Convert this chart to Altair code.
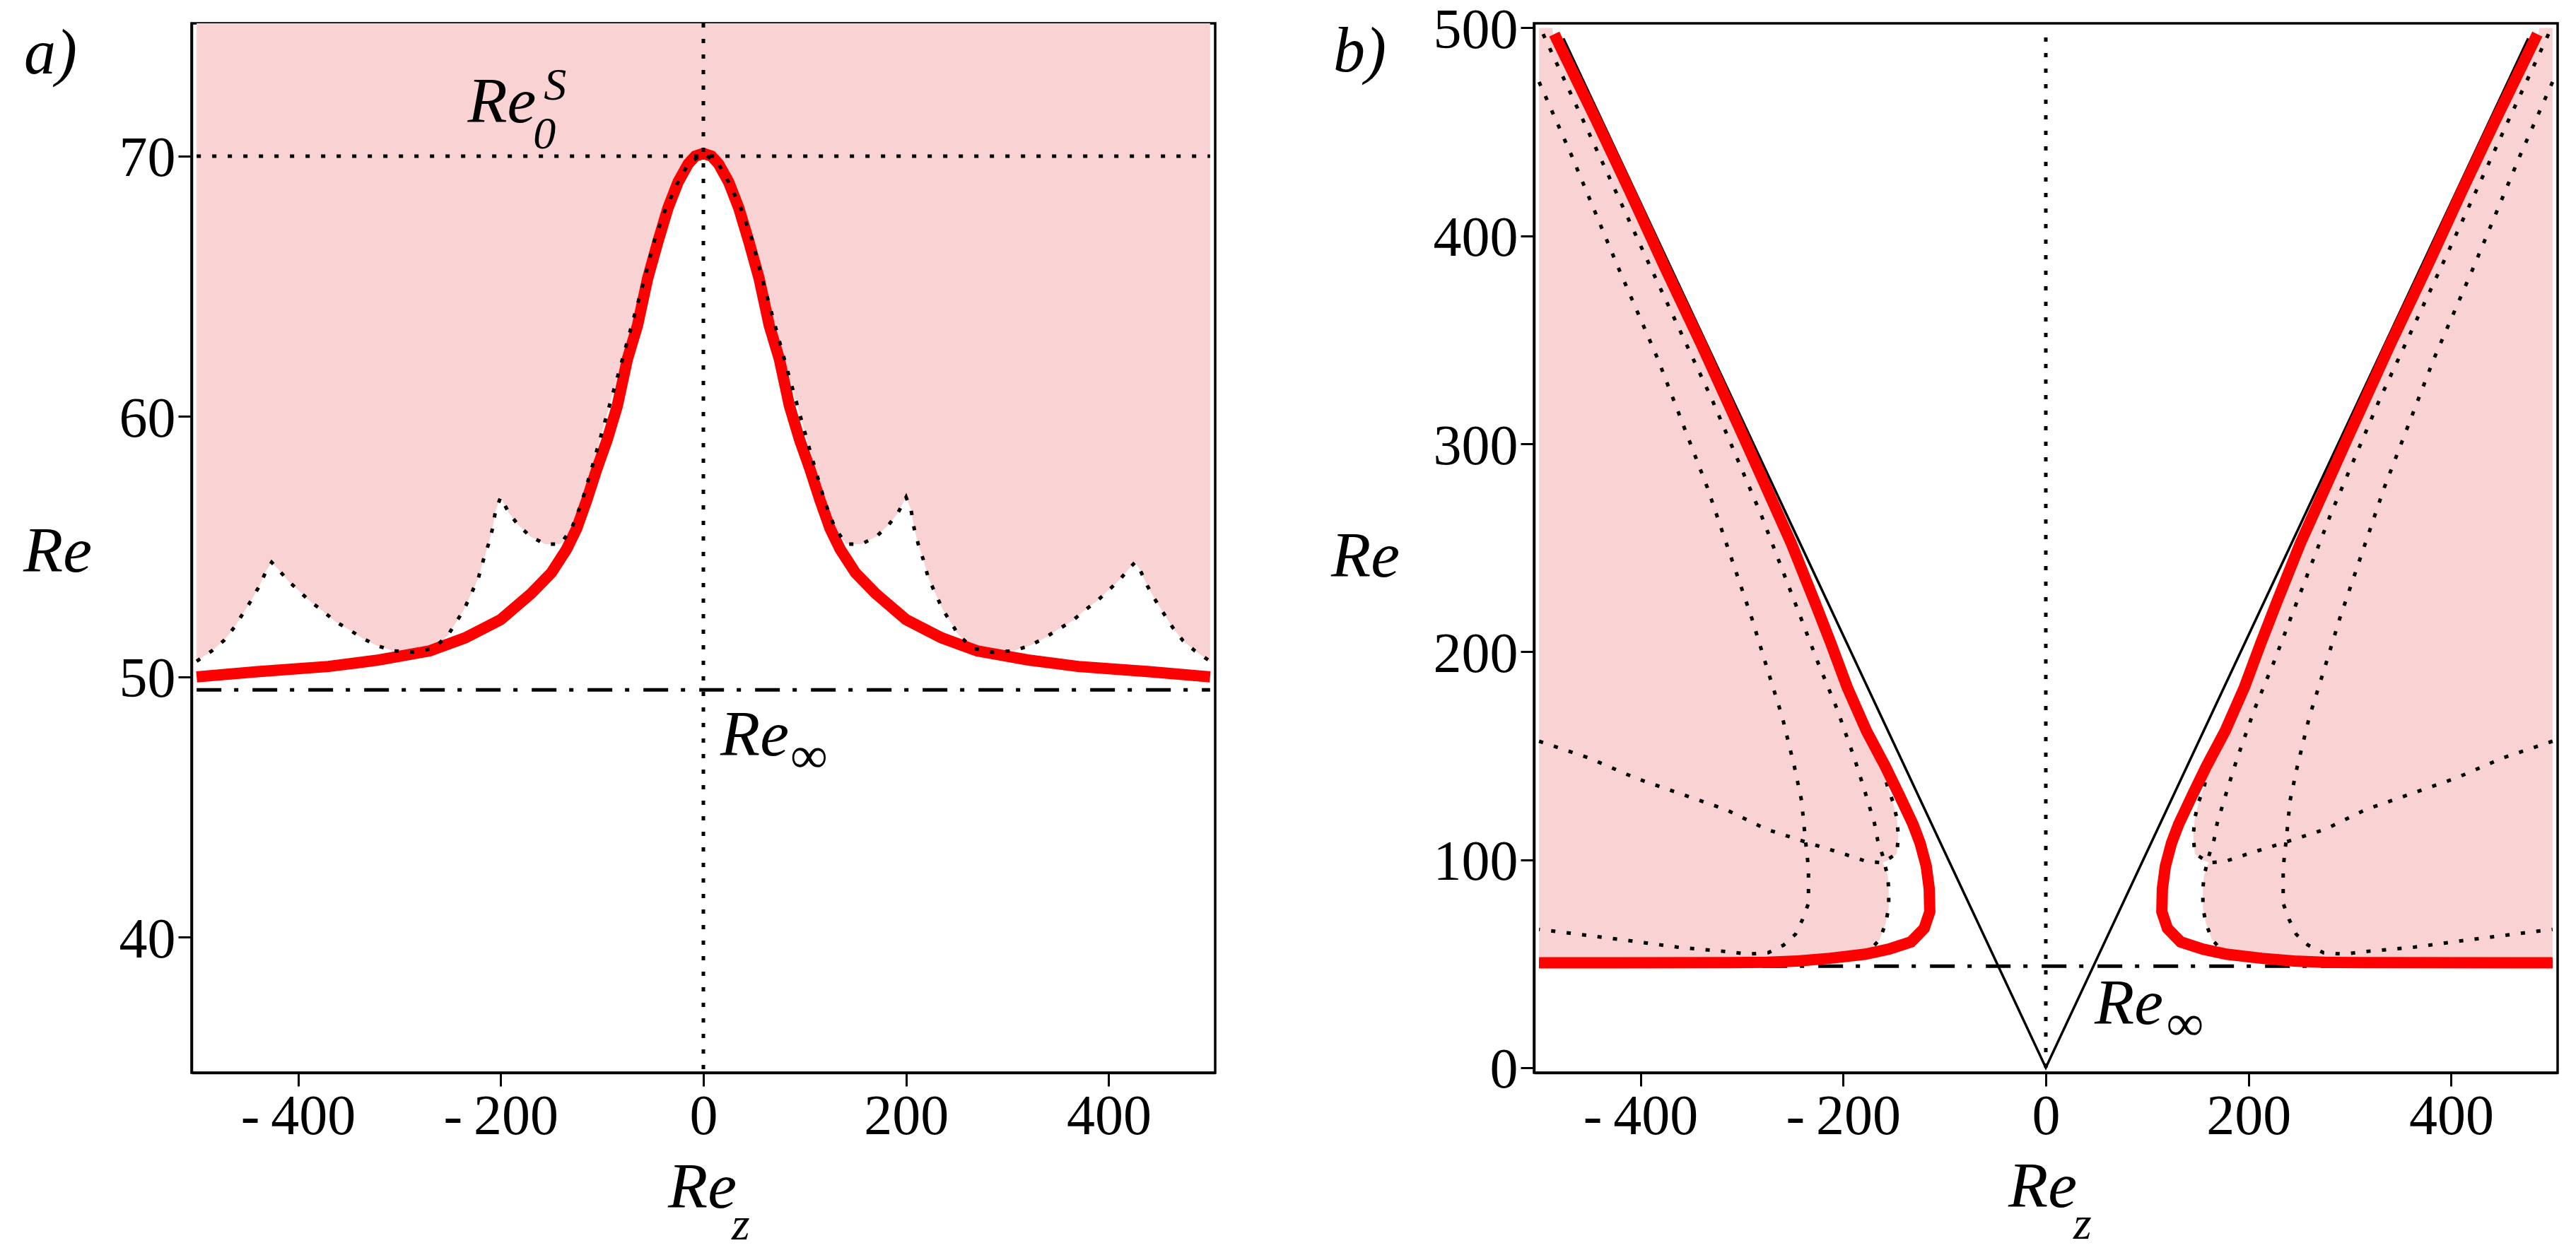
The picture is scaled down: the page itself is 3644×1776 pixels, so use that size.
import altair as alt
import pandas as pd

PINK = "#F9D3D3"
RED = "#FF0000"
FONT = "Liberation Serif"

# ---------------- panel a ----------------
A_X_DOMAIN = [-505, 505]
A_Y_DOMAIN = [34.8, 75.1]
A_X_TICKS = [-400, -200, 0, 200, 400]
A_Y_TICKS = [40, 50, 60, 70]
A_XMIN, A_XMAX = -500, 500
A_RE0S = 70.0
A_REINF = 49.5
# red curve (right half, mirrored to the left)
A_RED_X = [0, 8, 15, 25, 35, 45, 55, 65, 75, 85, 95, 105, 115, 125, 135, 150, 170, 200, 235, 270, 320, 370, 440, 500]
A_RED_Y = [70.1, 70.0, 69.7, 69.0, 68.0, 66.7, 65.3, 63.5, 62.2, 60.4, 59.1, 58.0, 56.8, 55.7, 54.9, 54.0, 53.2, 52.2, 51.5, 51.0, 50.65, 50.4, 50.2, 50.0]
# dotted envelope (right half, mirrored)
A_ENV_X = [0, 15, 25, 37, 48, 58, 70, 82, 95, 108, 120, 130, 141, 156, 171, 183, 192, 200, 205, 208,
           212, 217, 222, 229, 236, 244, 252, 266, 285, 306, 322, 337, 349, 364, 376, 388, 399, 410, 421, 426,
           431, 438, 446, 454, 463, 473, 485, 500]
A_ENV_Y = [70.1, 69.7, 69.0, 68.0, 66.8, 65.3, 63.6, 61.9, 60.1, 58.3, 56.7, 55.7, 55.1, 55.1, 55.4, 55.85, 56.3, 56.9, 56.4, 55.7,
           55.1, 54.5, 53.8, 53.2, 52.6, 52.1, 51.6, 51.1, 50.95, 51.0, 51.2, 51.5, 51.8, 52.15, 52.55, 52.9, 53.3, 53.7, 54.2, 54.4,
           54.1, 53.5, 52.95, 52.45, 51.9, 51.4, 51.0, 50.6]

# ---------------- panel b ----------------
B_X_DOMAIN = [-505, 505]
B_Y_DOMAIN = [-2.4, 502.2]
B_X_TICKS = [-400, -200, 0, 200, 400]
B_Y_TICKS = [0, 100, 200, 300, 400, 500]
B_XMIN, B_XMAX = -500, 500
B_REINF = 48.8
B_V_X = [-476, 0, 476]
B_V_Y = [495, 0, 495]
# left branches (mirrored to the right)
B_RED_X = [-485, -443, -410, -377, -340, -297, -251, -228, -212, -196, -177, -158.5, -144.5, -131, -124, -118, -115,
           -114.5, -120, -133, -155, -178, -213, -245, -275, -310, -500]
B_RED_Y = [497, 455, 421, 386, 348, 302, 252, 224, 204, 183, 162, 145, 131, 117, 108, 97, 86,
           75, 67, 60.5, 57, 54.6, 52.6, 51.3, 50.7, 50.5, 50.4]
B_D1_X = [-496, -456, -392, -330, -281, -243.5, -225, -206, -189, -179, -169, -166, -161, -156, -155, -155, -158,
          -164, -175, -195, -230, -300, -500]
B_D1_Y = [497, 455, 387, 322, 266, 218.6, 195, 172.5, 149, 133.6, 117.4, 109.6, 102, 92, 85.6, 77, 69.4,
          61.6, 55.8, 53, 51.8, 51.2, 51.0]
B_D2_X = [-500, -468, -423, -383, -334, -290, -275, -260, -248, -241, -237.6, -234.2, -234.2, -240, -247, -258.6,
          -274, -294, -316, -361, -405, -450, -500]
B_D2_Y = [474, 438.7, 386, 341, 279, 216, 192, 168.6, 144.6, 128.4, 111.5, 96, 79, 71.3, 64.2, 59,
          55.3, 54.6, 55.9, 57.8, 60.7, 63.5, 66.5]
B_D3_X = [-500, -450, -405, -361, -316, -276, -240, -209, -193, -177, -161, -147, -145.5, -147, -151, -156, -160]
B_D3_Y = [157, 148.8, 139.3, 131.8, 124.2, 114.7, 109, 104.3, 101.8, 99.2, 98.6, 103, 111.5, 120, 128, 135, 142]
B_PINK_Y = [50.4, 53, 55.8, 61.6, 69.4, 77, 85.6, 92, 96, 98.6, 100.5, 103, 111.5, 120, 128, 135, 142, 145,
            162, 183, 204, 224, 252, 302, 348, 386, 421, 455, 497, 500]
B_PINK_X = [-200, -195, -175, -164, -158, -155, -155, -156, -158, -161, -152, -147, -145.5, -147, -151, -156, -160, -158.5,
            -177, -196, -212, -228, -251, -297, -340, -377, -410, -443, -486, -487]

W, H = 1448, 1485


def sym_curve(xs, ys):
    pts = [(-x, y) for x, y in zip(xs[::-1], ys[::-1])] + [(x, y) for x, y in zip(xs[1:], ys[1:])]
    return pd.DataFrame({"x": [p[0] for p in pts], "y": [p[1] for p in pts], "i": list(range(len(pts)))})


def mirrored(xs, ys, name):
    rows = []
    for k, (x, y) in enumerate(zip(xs, ys)):
        rows.append({"x": x, "y": y, "i": k, "g": name + "L"})
        rows.append({"x": -x, "y": y, "i": k, "g": name + "R"})
    return pd.DataFrame(rows)


LABEL_EXPR = "datum.value < 0 ? '-\u2009' + format(-datum.value, 'd') : format(datum.value, 'd')"


def xenc(domain, ticks, field="x"):
    return alt.X(f"{field}:Q", scale=alt.Scale(domain=domain, nice=False, zero=False),
                 axis=alt.Axis(values=ticks, title=None, labelExpr=LABEL_EXPR, labelOverlap=False,
                               labelFlush=False, grid=False))


def yenc(domain, ticks, field="y"):
    return alt.Y(f"{field}:Q", scale=alt.Scale(domain=domain, nice=False, zero=False),
                 axis=alt.Axis(values=ticks, title=None, labelOverlap=False, labelFlush=False, grid=False,
                               labelOffset=4))


def pix_text(txt, x, y, size, italic=True):
    return alt.Chart(pd.DataFrame({"t": [txt]})).mark_text(
        font=FONT, fontSize=size, fontStyle="italic" if italic else "normal", align="left",
        baseline="alphabetic", color="black").encode(x=alt.value(x), y=alt.value(y), text="t:N")


def data_text(txt, x, y, size, xd, yd, xt, yt):
    return alt.Chart(pd.DataFrame({"t": [txt], "x": [x], "y": [y]})).mark_text(
        font=FONT, fontSize=size, fontStyle="italic", align="left", baseline="alphabetic",
        color="black").encode(x=xenc(xd, xt), y=yenc(yd, yt), text="t:N")


DOT = [6, 16]
DASHDOT = [35, 18, 6, 20]
RED_W = 16

# ---------- panel a layers ----------
ax, ay = A_X_DOMAIN, A_Y_DOMAIN
env_a = sym_curve(A_ENV_X, A_ENV_Y)
env_a["top"] = A_Y_DOMAIN[1]
red_a = sym_curve(A_RED_X, A_RED_Y)

a_pink = alt.Chart(env_a).mark_area(color=PINK, clip=True).encode(
    x=xenc(ax, A_X_TICKS), y=yenc(ay, A_Y_TICKS), y2="top:Q")
a_vline = alt.Chart(pd.DataFrame({"x": [0]})).mark_rule(
    color="black", strokeWidth=5, strokeDash=DOT).encode(x=xenc(ax, A_X_TICKS))
a_hline = alt.Chart(pd.DataFrame({"x": [A_XMIN], "x2": [A_XMAX], "y": [A_RE0S]})).mark_rule(
    color="black", strokeWidth=5, strokeDash=DOT).encode(x=xenc(ax, A_X_TICKS), x2="x2:Q", y=yenc(ay, A_Y_TICKS))
a_inf = alt.Chart(pd.DataFrame({"x": [A_XMIN], "x2": [A_XMAX], "y": [A_REINF]})).mark_rule(
    color="black", strokeWidth=5, strokeDash=DASHDOT).encode(x=xenc(ax, A_X_TICKS), x2="x2:Q", y=yenc(ay, A_Y_TICKS))
a_red = alt.Chart(red_a).mark_line(color=RED, strokeWidth=RED_W, clip=True).encode(
    x=xenc(ax, A_X_TICKS), y=yenc(ay, A_Y_TICKS), order="i:Q")
a_env = alt.Chart(env_a).mark_line(color="black", strokeWidth=5, strokeDash=DOT, clip=True).encode(
    x=xenc(ax, A_X_TICKS), y=yenc(ay, A_Y_TICKS), order="i:Q")

a_texts = [
    pix_text("a)", -237, 71, 90),
    pix_text("Re", -238, 776, 92),
    pix_text("Re", 674, 1676, 92),
    pix_text("z", 764, 1721, 66),
    data_text("Re", -232.7, 71.3, 92, ax, ay, A_X_TICKS, A_Y_TICKS),
    data_text("0", -167.9, 70.3, 64, ax, ay, A_X_TICKS, A_Y_TICKS),
    data_text("S", -157.4, 72.17, 64, ax, ay, A_X_TICKS, A_Y_TICKS),
    data_text("Re", 16.7, 46.98, 92, ax, ay, A_X_TICKS, A_Y_TICKS),
    data_text("\u221e", 86.4, 46.33, 72, ax, ay, A_X_TICKS, A_Y_TICKS),
]

panel_a = alt.layer(a_pink, a_inf, a_red, a_env, a_vline, a_hline, *a_texts).properties(width=W, height=H)

# ---------- panel b layers ----------
bx, by = B_X_DOMAIN, B_Y_DOMAIN
pink_b = pd.DataFrame({"y": B_PINK_Y,
                       "xl": [B_XMIN] * len(B_PINK_Y), "xr": B_PINK_X,
                       "xl2": [-v for v in B_PINK_X], "xr2": [B_XMAX] * len(B_PINK_Y)})

b_pink_l = alt.Chart(pink_b).mark_area(color=PINK, orient="horizontal", clip=True).encode(
    y=yenc(by, B_Y_TICKS), x=xenc(bx, B_X_TICKS, "xl"), x2="xr:Q")
b_pink_r = alt.Chart(pink_b).mark_area(color=PINK, orient="horizontal", clip=True).encode(
    y=yenc(by, B_Y_TICKS), x=xenc(bx, B_X_TICKS, "xl2"), x2="xr2:Q")
b_inf = alt.Chart(pd.DataFrame({"x": [B_XMIN], "x2": [B_XMAX], "y": [B_REINF]})).mark_rule(
    color="black", strokeWidth=5, strokeDash=DASHDOT).encode(x=xenc(bx, B_X_TICKS), x2="x2:Q", y=yenc(by, B_Y_TICKS))
b_vline = alt.Chart(pd.DataFrame({"x": [0], "y": [0], "y2": [500]})).mark_rule(
    color="black", strokeWidth=5, strokeDash=DOT).encode(x=xenc(bx, B_X_TICKS), y=yenc(by, B_Y_TICKS), y2="y2:Q")
b_v = alt.Chart(pd.DataFrame({"x": B_V_X, "y": B_V_Y, "i": [0, 1, 2]})).mark_line(
    color="black", strokeWidth=3.5).encode(x=xenc(bx, B_X_TICKS), y=yenc(by, B_Y_TICKS), order="i:Q")
dots_b = pd.concat([mirrored(B_D1_X, B_D1_Y, "d1"), mirrored(B_D2_X, B_D2_Y, "d2"),
                    mirrored(B_D3_X, B_D3_Y, "d3")], ignore_index=True)
b_dots = alt.Chart(dots_b).mark_line(color="black", strokeWidth=5, strokeDash=DOT, clip=True).encode(
    x=xenc(bx, B_X_TICKS), y=yenc(by, B_Y_TICKS), order="i:Q", detail="g:N")
b_red = alt.Chart(mirrored(B_RED_X, B_RED_Y, "r")).mark_line(color=RED, strokeWidth=RED_W, clip=True).encode(
    x=xenc(bx, B_X_TICKS), y=yenc(by, B_Y_TICKS), order="i:Q", detail="g:N")

b_texts = [
    pix_text("b)", -284, 68, 90),
    pix_text("Re", -287, 783, 92),
    pix_text("Re", 671, 1675, 92),
    pix_text("z", 763, 1720, 66),
    data_text("Re", 48.2, 21.0, 92, bx, by, B_X_TICKS, B_Y_TICKS),
    data_text("\u221e", 119.5, 13.2, 72, bx, by, B_X_TICKS, B_Y_TICKS),
]

panel_b = alt.layer(b_pink_l, b_pink_r, b_inf, b_vline, b_v, b_dots, b_red, *b_texts).properties(width=W, height=H)

chart = alt.hconcat(panel_a, panel_b, spacing=160).properties(
    padding={"left": 23, "top": -7, "right": 5, "bottom": 0}
).configure_view(stroke="black", strokeWidth=3.5).configure_axis(
    domainColor="black", domainWidth=3.5, tickColor="black", tickWidth=3, tickSize=19,
    labelFont=FONT, labelFontSize=80, labelColor="black", labelPadding=4, grid=False
)

chart.save("out.html", embed_options={"renderer": "svg", "actions": False})
